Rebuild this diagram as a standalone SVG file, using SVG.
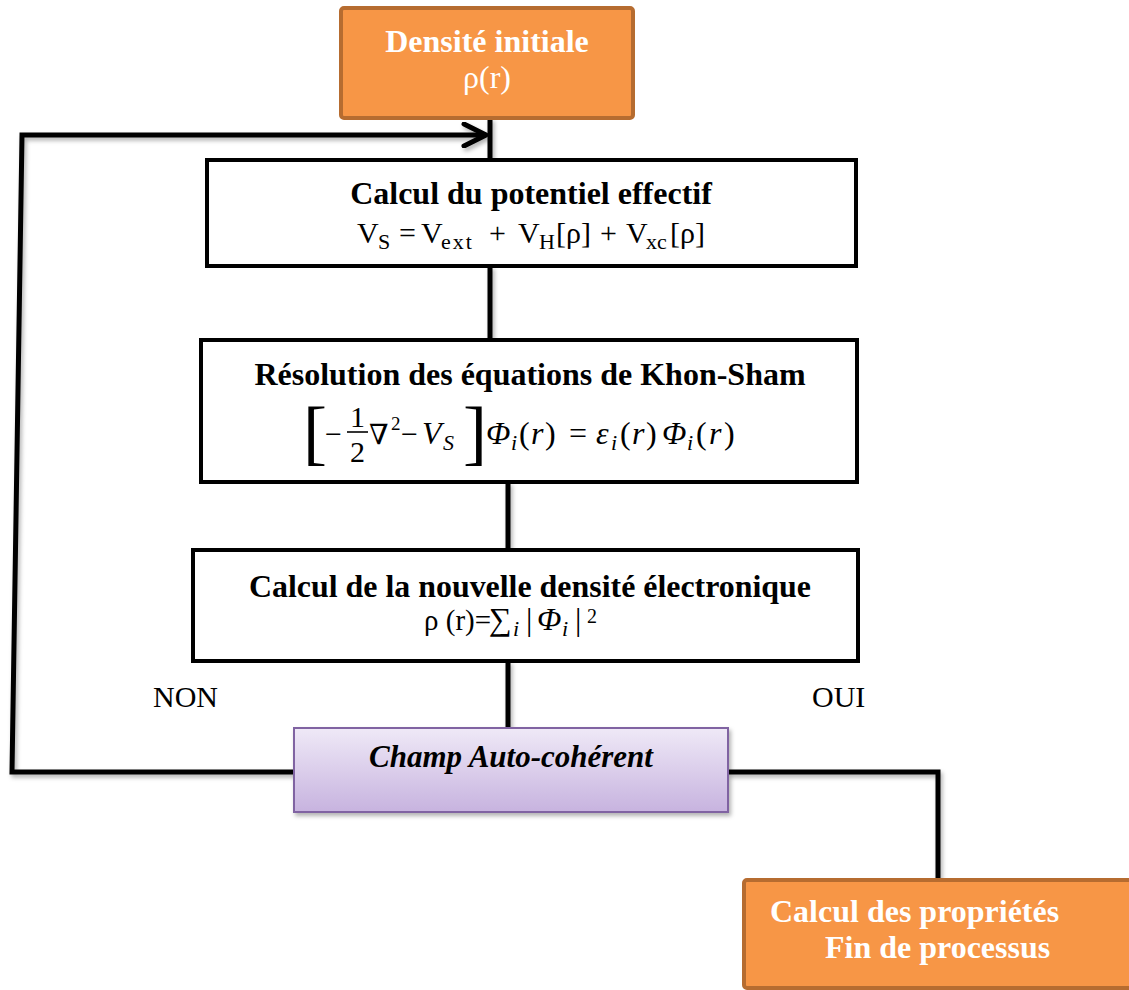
<svg xmlns="http://www.w3.org/2000/svg" width="1129" height="990" viewBox="0 0 1129 990">
<style>
  .t{font-family:"Liberation Serif","Times New Roman","DejaVu Serif",serif}
  .b{font-weight:bold}
  .w{fill:#fff}
  .it{font-style:italic}
  .box{fill:#fff;stroke:#000;stroke-width:4}
  .orange{fill:#F79646;stroke:#B66C30;stroke-width:4}
  .conn{fill:none;stroke:#000;stroke-width:5;stroke-linejoin:miter}
  .m{font-size:30px}
  .s{font-size:22px}
</style>
<defs>
  <linearGradient id="purple" x1="0" y1="0" x2="0" y2="1">
    <stop offset="0" stop-color="#EFE9F7"/>
    <stop offset="1" stop-color="#C7B3DF"/>
  </linearGradient>
  <filter id="sh" x="-10%" y="-10%" width="130%" height="140%">
    <feDropShadow dx="2" dy="3" stdDeviation="2" flood-color="#000" flood-opacity="0.3"/>
  </filter>
  <marker id="arrow" markerUnits="userSpaceOnUse" viewBox="0 0 30 26" markerWidth="30" markerHeight="26" refX="25" refY="13" orient="auto">
    <path d="M3,2 L25,13 L3,24" fill="none" stroke="#000" stroke-width="5" stroke-linecap="round" stroke-linejoin="round"/>
  </marker>
</defs>

<g id="connectors" filter="url(#sh)">
  <path class="conn" d="M294,772 H12 L22,135 H486" marker-end="url(#arrow)"/>
  <line class="conn" x1="490" y1="118" x2="490" y2="160"/>
  <line class="conn" x1="490" y1="266" x2="490" y2="340"/>
  <line class="conn" x1="508" y1="482" x2="508" y2="550"/>
  <line class="conn" x1="508" y1="661" x2="508" y2="728"/>
  <path class="conn" d="M728,772 H938 V880"/>
</g>

<g id="densite-initiale">
  <rect class="orange" x="341" y="8" width="292" height="110" rx="3"/>
  <text class="t b w" x="487" y="52" font-size="32" text-anchor="middle">Densité initiale</text>
  <text class="t w" x="487" y="88" font-size="32" text-anchor="middle">ρ(r)</text>
</g>

<g id="potentiel-effectif">
  <rect class="box" x="207" y="160" width="649" height="106"/>
  <text class="t b" x="531" y="204" font-size="32" text-anchor="middle">Calcul du potentiel effectif</text>
  <text class="t m" y="243">
    <tspan x="357">V</tspan><tspan class="s" x="378" dy="6">S</tspan>
    <tspan x="399" dy="-6">=</tspan>
    <tspan x="421">V</tspan><tspan class="s" x="441" dy="6" letter-spacing="2">ext</tspan>
    <tspan x="489" dy="-6">+</tspan>
    <tspan x="518">V</tspan><tspan class="s" x="539" dy="6">H</tspan>
    <tspan x="556" dy="-6">[ρ]</tspan>
    <tspan x="600">+</tspan>
    <tspan x="626">V</tspan><tspan class="s" x="646" dy="6">xc</tspan>
    <tspan x="670" dy="-6">[ρ]</tspan>
  </text>
</g>

<g id="khon-sham">
  <rect class="box" x="201" y="340" width="656" height="142"/>
  <text class="t b" x="530" y="385" font-size="32" text-anchor="middle">Résolution des équations de Khon-Sham</text>
  <text class="t" x="303" y="456" font-size="72">[</text>
  <text class="t m" x="325" y="444">−</text>
  <text class="t m" x="350" y="427">1</text>
  <line x1="347" y1="432" x2="368" y2="432" stroke="#000" stroke-width="1.6"/>
  <text class="t m" x="350" y="462">2</text>
  <text class="t" x="369" y="444" font-size="28">∇</text>
  <text class="t" x="391" y="430" font-size="19">2</text>
  <text class="t m" x="401" y="444">−</text>
  <text class="t it" x="422" y="444" font-size="32">V</text>
  <text class="t s it" x="443" y="450">S</text>
  <text class="t" x="463" y="456" font-size="72">]</text>
  <text class="t" y="444" font-size="32">
    <tspan class="it" x="486">Φ</tspan><tspan class="it" x="511" dy="6" font-size="22">i</tspan><tspan x="519" dy="-6">(</tspan><tspan class="it" x="531">r</tspan><tspan x="545">)</tspan>
    <tspan x="569">=</tspan>
    <tspan class="it" x="596">ε</tspan><tspan class="it" x="611" dy="6" font-size="22">i</tspan><tspan x="620" dy="-6">(</tspan><tspan class="it" x="632">r</tspan><tspan x="646">)</tspan>
    <tspan class="it" x="662">Φ</tspan><tspan class="it" x="687" dy="6" font-size="22">i</tspan><tspan x="696" dy="-6">(</tspan><tspan class="it" x="709">r</tspan><tspan x="724">)</tspan>
  </text>
</g>

<g id="nouvelle-densite">
  <rect class="box" x="193" y="550" width="665" height="111"/>
  <text class="t b" x="530" y="597" font-size="32" text-anchor="middle" textLength="562" lengthAdjust="spacingAndGlyphs">Calcul de la nouvelle densité électronique</text>
  <text class="t" y="630" font-size="29">
    <tspan x="424">ρ (r)=</tspan><tspan x="489" font-size="32">∑</tspan><tspan class="it" x="513" dy="6" font-size="22">i</tspan><tspan x="526" dy="-6" font-size="32">|</tspan><tspan class="it" x="537" font-size="32">Φ</tspan><tspan class="it" x="562" dy="6" font-size="22">i</tspan><tspan x="575" dy="-6" font-size="32">|</tspan><tspan x="587" dy="-7" font-size="20">2</tspan>
  </text>
</g>

<g id="labels">
  <text class="t" x="153" y="707" font-size="30">NON</text>
  <text class="t" x="812" y="707" font-size="30">OUI</text>
</g>

<g id="champ-auto-coherent">
  <rect x="294" y="728" width="434" height="84" fill="url(#purple)" stroke="#8064A2" stroke-width="2" filter="url(#sh)"/>
  <text class="t b it" x="511" y="767" font-size="31" text-anchor="middle">Champ Auto-cohérent</text>
</g>

<g id="fin-processus">
  <rect class="orange" x="744" y="880" width="400" height="108" rx="3"/>
  <text class="t b w" x="770" y="922" font-size="32">Calcul des propriétés</text>
  <text class="t b w" x="825" y="958" font-size="32">Fin de processus</text>
</g>
</svg>
